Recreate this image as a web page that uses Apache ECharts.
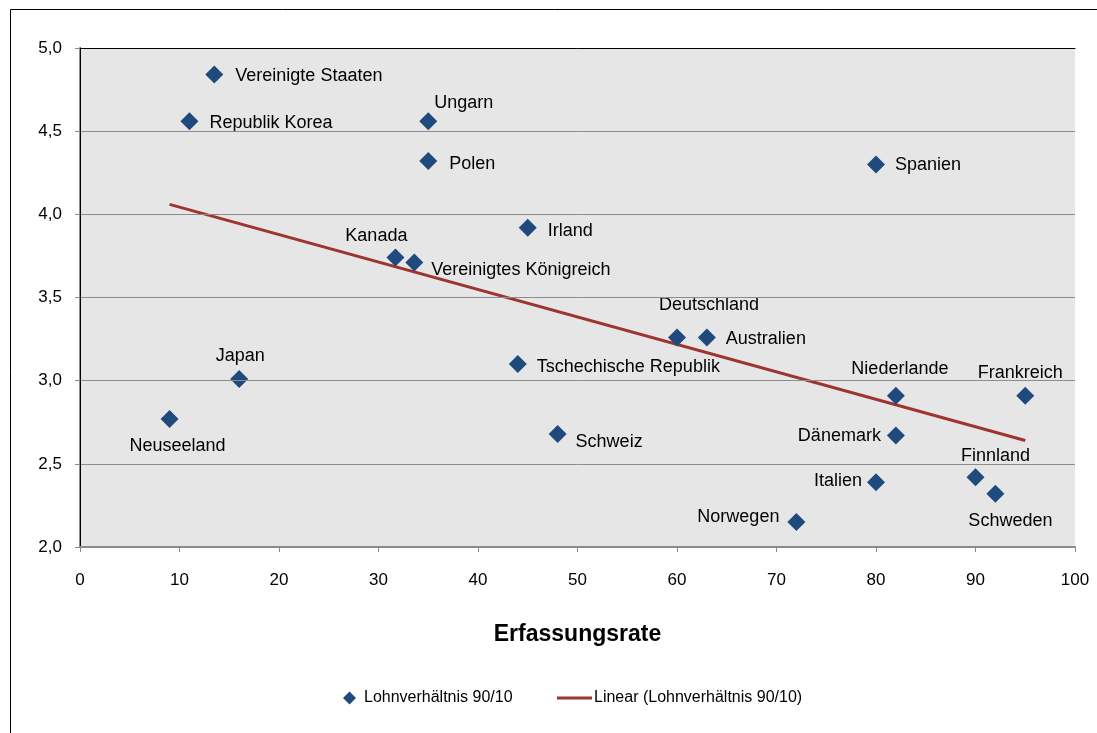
<!DOCTYPE html>
<html>
<head>
<meta charset="utf-8">
<script src="https://cdn.jsdelivr.net/npm/echarts@6/dist/echarts.min.js"></script>
<style>
  html, body { margin: 0; padding: 0; background: #fff; }
  #chart { width: 1097px; height: 733px; }
</style>
</head>
<body>
<div id="chart"></div>
<script>
// Länder und Werte (Erfassungsrate / Lohnverhältnis 90/10)
const countries = ['Vereinigte Staaten', 'Republik Korea', 'Ungarn', 'Polen', 'Spanien', 'Irland',
  'Kanada', 'Vereinigtes Königreich', 'Deutschland', 'Australien', 'Tschechische Republik',
  'Japan', 'Neuseeland', 'Schweiz', 'Niederlande', 'Frankreich', 'Dänemark', 'Finnland',
  'Schweden', 'Italien', 'Norwegen']
const coverage = [13.5, 11.0, 35.0, 35.0, 80.0, 45.0, 31.7, 33.6, 60.0, 63.0, 44.0,
  16.0, 9.0, 48.0, 82.0, 95.0, 82.0, 90.0, 92.0, 80.0, 72.0]
const wageRatio = [4.84, 4.56, 4.56, 4.32, 4.30, 3.92, 3.74, 3.71, 3.26, 3.26, 3.10,
  3.01, 2.77, 2.68, 2.91, 2.91, 2.67, 2.42, 2.32, 2.39, 2.15]

// Trendlinie (Endpunkte)
const trendX = [9, 95]
const trendY = [4.06, 2.64]

const seriesName = 'Lohnverhältnis 90/10'
const trendName = 'Linear (Lohnverhältnis 90/10)'

// Beschriftungsposition je Land
const labelPlacement = {
  'Vereinigte Staaten': ['right', 7, 1],
  'Republik Korea': ['right', 6, 2],
  'Ungarn': ['right', -8, -18],
  'Polen': ['right', 7, 3],
  'Spanien': ['right', 5, 1],
  'Irland': ['right', 6, 3],
  'Kanada': ['left', 26, -22],
  'Vereinigtes Königreich': ['right', 3, 7],
  'Deutschland': ['top', 32, -9],
  'Australien': ['right', 5, 2],
  'Tschechische Republik': ['right', 5, 3],
  'Japan': ['top', 1, 0],
  'Neuseeland': ['bottom', 8, 4],
  'Schweiz': ['right', 4, 8],
  'Niederlande': ['top', 4, -4],
  'Frankreich': ['top', -5, 0],
  'Dänemark': ['left', -1, 0],
  'Finnland': ['top', 20, 2],
  'Schweden': ['bottom', 15, 4],
  'Italien': ['left', 0, -1],
  'Norwegen': ['left', -3, -5]
}

const font = 'Liberation Sans, Arial, sans-serif'

const scatterData = countries.map((name, i) => {
  const p = labelPlacement[name]
  return {
    name: name,
    value: [coverage[i], wageRatio[i]],
    label: { position: p[0], offset: [p[1], p[2]] }
  }
})

const chart = echarts.init(document.getElementById('chart'))
chart.setOption({
  backgroundColor: '#fff',
  animation: false,
  graphic: [{
    type: 'rect',
    shape: { x: 10.5, y: 9.5, width: 1100, height: 740 },
    style: { fill: 'none', stroke: '#000', lineWidth: 1 },
    silent: true
  }],
  grid: {
    left: 80,
    right: 22,
    top: 48,
    bottom: 186,
    show: true,
    backgroundColor: '#e6e6e6',
    borderWidth: 0
  },
  legend: [{
    left: 338,
    top: 685,
    itemWidth: 13,
    itemHeight: 13,
    itemGap: 0,
    data: [{ name: seriesName, icon: 'diamond' }],
    textStyle: { fontFamily: font, fontSize: 16, color: '#000', padding: [0, 0, 0, 3] }
  }, {
    left: 552,
    top: 685,
    itemWidth: 35,
    itemHeight: 3,
    data: [{ name: trendName, icon: 'rect' }],
    textStyle: { fontFamily: font, fontSize: 16, color: '#000', padding: [0, 0, 0, -3] }
  }],
  xAxis: [{
    type: 'value',
    min: 0,
    max: 100,
    interval: 10,
    name: 'Erfassungsrate',
    nameLocation: 'middle',
    nameGap: 76,
    nameTextStyle: { fontFamily: font, fontSize: 23, fontWeight: 'bold', color: '#000' },
    axisLine: { show: true, lineStyle: { color: '#8c8c8c', width: 2 } },
    axisTick: { show: true, length: 5, lineStyle: { color: '#8c8c8c', width: 1 } },
    axisLabel: { margin: 25, fontFamily: font, fontSize: 17, color: '#000' },
    splitLine: { show: false },
    z: 5
  }, {
    // obere Rahmenlinie
    type: 'value',
    position: 'top',
    min: 0,
    max: 100,
    axisLine: { show: true, lineStyle: { color: '#000', width: 1 } },
    axisTick: { show: false },
    axisLabel: { show: false },
    splitLine: { show: false },
    z: 5
  }],
  yAxis: [{
    type: 'value',
    min: 2,
    max: 5,
    interval: 0.5,
    axisLine: { show: true, lineStyle: { color: '#8c8c8c', width: 2 } },
    axisTick: { show: true, length: 5, lineStyle: { color: '#8c8c8c', width: 1 } },
    axisLabel: {
      margin: 18,
      fontFamily: font,
      fontSize: 17,
      color: '#000',
      formatter: v => v.toFixed(1).replace('.', ',')
    },
    splitLine: { show: true, lineStyle: { color: '#8c8c8c', width: 1 } },
    z: 5
  }, {
    // rechte Rahmenlinie
    type: 'value',
    position: 'right',
    min: 2,
    max: 5,
    axisLine: { show: true, lineStyle: { color: '#000', width: 1 } },
    axisTick: { show: false },
    axisLabel: { show: false },
    splitLine: { show: false },
    z: 5
  }],
  series: [{
    name: trendName,
    type: 'line',
    data: trendX.map((x, i) => [x, trendY[i]]),
    showSymbol: false,
    symbol: 'none',
    itemStyle: { color: '#9e3430' },
    lineStyle: { color: '#9e3430', width: 3 },
    z: 2
  }, {
    name: seriesName,
    type: 'scatter',
    symbol: 'diamond',
    symbolSize: 18,
    itemStyle: { color: '#1f4a7e', opacity: 1 },
    label: {
      show: true,
      formatter: '{b}',
      distance: 5,
      fontFamily: font,
      fontSize: 18,
      color: '#000'
    },
    data: scatterData,
    z: 3
  }]
})
</script>
</body>
</html>
